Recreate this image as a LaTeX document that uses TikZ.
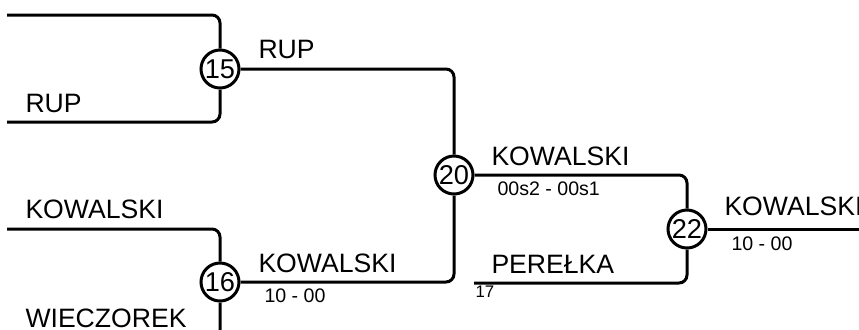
\documentclass[tikz,border=0pt]{standalone}
\usepackage{fontspec}
\setmainfont{Liberation Sans}

\begin{document}
\begin{tikzpicture}[x=0.5pt, y=-0.5pt, line width=1.5pt,
	game/.style={circle, draw, inner sep=0pt, minimum size=19pt, font=\fontsize{13.6}{14}\selectfont},
	player/.style={anchor=base west, inner sep=0pt, font=\fontsize{13.3}{14}\selectfont},
	result/.style={anchor=base west, inner sep=0pt, font=\fontsize{9.8}{10}\selectfont},
	seed/.style={anchor=base west, inner sep=0pt, font=\fontsize{8.4}{9}\selectfont},
	bracket/.style={rounded corners=4pt}]

		\clip (0, 0) rectangle (859, 329);

		% Mecze
		\node[game] (g15) at (220, 69) {15};
		\node[game] (g16) at (220, 282) {16};
		\node[game] (g20) at (454, 175) {20};
		\node[game] (g22) at (687, 229) {22};

		\coordinate (s1) at (7, 15);
		\coordinate (s2) at (7, 122);
		\coordinate (s3) at (7, 229);
		\coordinate (s4) at (7, 338);
		\coordinate (s17) at (474, 283);
		\coordinate (win) at (870, 229);

		\draw[bracket] (s1) -| (g15);
		\draw[bracket] (s2) -| (g15);
		\draw[bracket] (s3) -| (g16);
		\draw[bracket] (s4) -| (g16);
		\draw[bracket] (g15) -| (g20);
		\draw[bracket] (g16) -| (g20);
		\draw[bracket] (g20) -| (g22);
		\draw[bracket] (s17) -| (g22);
		\draw (g22) -- (win);

		% Zawodnicy
		\node[player] (p2) at (24, 112) {RUP};
		\node[player] (p3) at (24, 218) {KOWALSKI};
		\node[player] (p4) at (24, 327) {WIECZOREK};

		\node[player] (w15) at (257, 58) {RUP};
		\node[player] (w16) at (257, 272) {KOWALSKI};
		\node[result] (r16) at (263, 302) {10 - 00};

		\node[player] (w20) at (490, 165) {KOWALSKI};
		\node[result] (r20) at (496, 195) {00s2 - 00s1};

		\node[player] (p17) at (490, 273) {PEREŁKA};
		\node[seed] (n17) at (474, 297) {17};

		\node[player] (w22) at (723, 215) {KOWALSKI};
		\node[result] (r22) at (730, 250) {10 - 00};
	\end{tikzpicture}
\end{document}
